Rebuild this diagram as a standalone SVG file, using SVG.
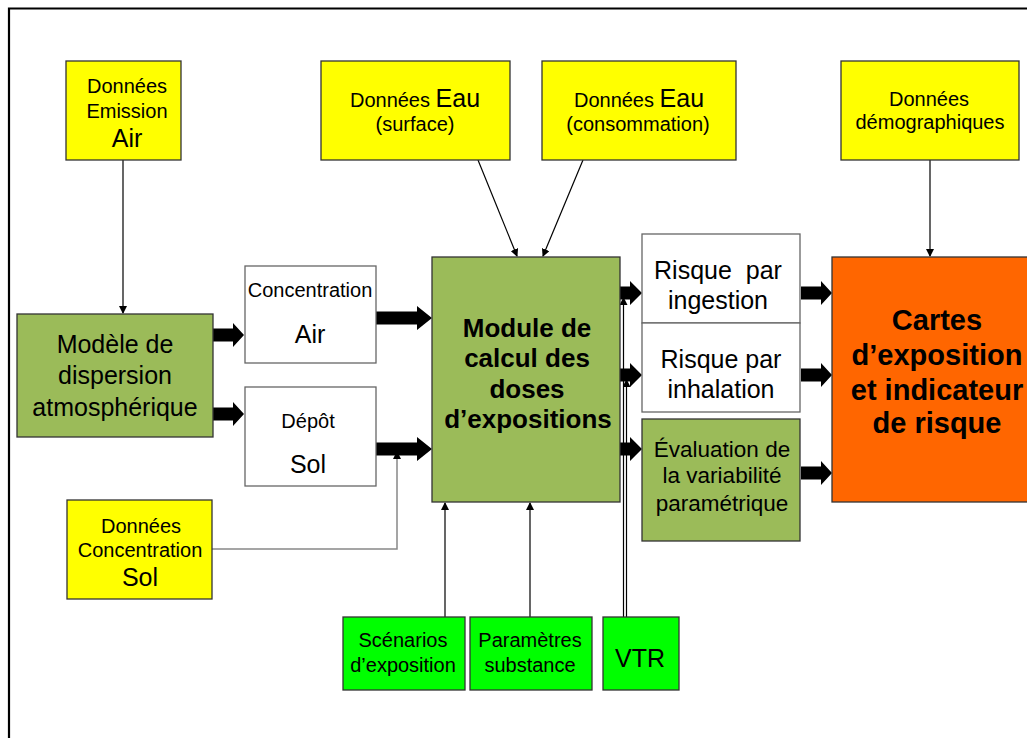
<svg xmlns="http://www.w3.org/2000/svg" width="1027" height="738" viewBox="0 0 1027 738">
<style>
.box{stroke:#333;stroke-width:1.3}
.y{fill:#FFFF00}.g{fill:#9BBB59}.w{fill:#fff;stroke:#666}.o{fill:#FF6600}.l{fill:#00FF00}
text{font-family:"Liberation Sans",Arial,sans-serif;fill:#000;text-anchor:middle}
.s{font-size:20px}.m{font-size:25px}.e{font-size:22.5px}.b{font-weight:bold;font-size:26px}.c{font-weight:bold;font-size:29px}
.thin{stroke:#000;stroke-width:1.2;fill:none}
.gray{stroke:#888;stroke-width:1.5;fill:none}
</style>
<defs>
<marker id="ah" markerWidth="8" markerHeight="8" refX="7" refY="4" orient="auto" markerUnits="userSpaceOnUse" viewBox="0 0 8 8"><path d="M0,0L8,4L0,8z" fill="#000"/></marker>
<path id="big" d="M0,-6.5H20V-12L31,0L20,12V6.5H0z" fill="#000"/>
<path id="long" d="M0,-6.5H41V-12L56,0L41,12V6.5H0z" fill="#000"/>
<path id="short" d="M0,-6.5H17V-12L29,0L17,12V6.5H0z" fill="#000"/>
</defs>
<path d="M9,738V8.5H1027" stroke="#000" stroke-width="2.2" fill="none"/>
<g id="connectors">
<line class="thin" x1="123" y1="160" x2="123" y2="313" marker-end="url(#ah)"/>
<line class="thin" x1="478" y1="160" x2="517" y2="256" marker-end="url(#ah)"/>
<line class="thin" x1="583" y1="160" x2="543" y2="256" marker-end="url(#ah)"/>
<line class="thin" x1="930" y1="160" x2="930" y2="256" marker-end="url(#ah)"/>
<line class="thin" x1="445" y1="617" x2="445" y2="503" marker-end="url(#ah)"/>
<line class="thin" x1="530" y1="617" x2="530" y2="503" marker-end="url(#ah)"/>
<path class="gray" d="M212,549H397V452" marker-end="url(#ah)"/>
<use href="#big" x="213" y="335"/>
<use href="#big" x="213" y="414"/>
<use href="#long" x="376" y="318"/>
<use href="#long" x="376" y="449"/>
<use href="#short" x="613" y="293"/>
<use href="#short" x="613" y="375"/>
<use href="#short" x="613" y="449"/>
<use href="#big" x="801" y="293"/>
<use href="#big" x="801" y="375"/>
<use href="#big" x="801" y="473"/>
<line class="thin" x1="623.5" y1="617" x2="623.5" y2="298" marker-end="url(#ah)"/>
<line class="thin" x1="626.5" y1="617" x2="626.5" y2="380" marker-end="url(#ah)"/>
</g>
<g id="emission"><rect class="box y" x="66" y="61" width="115" height="99"/>
<text class="s" x="127" y="93">Données</text><text class="s" x="127" y="118">Emission</text><text class="m" x="127" y="147">Air</text></g>
<g id="eau-surface"><rect class="box y" x="321" y="61" width="189" height="99"/>
<text x="415" y="107"><tspan class="s">Données </tspan><tspan class="m">Eau</tspan></text><text class="s" x="415" y="131">(surface)</text></g>
<g id="eau-conso"><rect class="box y" x="542" y="61" width="194" height="99"/>
<text x="639" y="107"><tspan class="s">Données </tspan><tspan class="m">Eau</tspan></text><text class="s" x="638" y="131">(consommation)</text></g>
<g id="demo"><rect class="box y" x="841" y="61" width="178" height="99"/>
<text class="s" x="929" y="106">Données</text><text class="s" x="930" y="129">démographiques</text></g>
<g id="modele"><rect class="box g" x="17" y="314" width="196" height="123"/>
<text class="m" x="115" y="353">Modèle de</text><text class="m" x="115" y="384">dispersion</text><text class="m" x="115" y="416">atmosphérique</text></g>
<g id="conc-air"><rect class="box w" x="245" y="266" width="131" height="97"/>
<text class="s" x="310" y="297">Concentration</text><text class="m" x="310" y="343">Air</text></g>
<g id="depot-sol"><rect class="box w" x="245" y="387" width="131" height="99"/>
<text class="s" x="308" y="428">Dépôt</text><text class="m" x="308" y="473">Sol</text></g>
<g id="module"><rect class="box g" x="432" y="257" width="188" height="245"/>
<text class="b" x="527" y="337">Module de</text><text class="b" x="527" y="367">calcul des</text><text class="b" x="527" y="398">doses</text><text class="b" x="528" y="428">d’expositions</text></g>
<g id="ingestion"><rect class="box w" x="642" y="234" width="158" height="89"/>
<text class="m" x="718" y="279" xml:space="preserve">Risque  par</text><text class="m" x="718" y="309">ingestion</text></g>
<g id="inhalation"><rect class="box w" x="642" y="323" width="158" height="89"/>
<text class="m" x="721" y="368">Risque par</text><text class="m" x="721" y="398">inhalation</text></g>
<g id="evaluation"><rect class="box g" x="642" y="419" width="158" height="122"/>
<text class="e" x="722" y="457">Évaluation de</text><text class="e" x="722" y="483">la variabilité</text><text class="e" x="722" y="511">paramétrique</text></g>
<g id="cartes"><rect class="box o" x="832" y="257" width="200" height="245"/>
<text class="c" x="937" y="330">Cartes</text><text class="c" x="937" y="365">d’exposition</text><text class="c" x="937" y="400">et indicateur</text><text class="c" x="937" y="433">de risque</text></g>
<g id="conc-sol"><rect class="box y" x="67" y="500" width="145" height="99"/>
<text class="s" x="141" y="533">Données</text><text class="s" x="140" y="557">Concentration</text><text class="m" x="140" y="586">Sol</text></g>
<g id="scenarios"><rect class="box l" x="343" y="617" width="122" height="73"/>
<text class="s" x="403" y="647">Scénarios</text><text class="s" x="403" y="672">d’exposition</text></g>
<g id="parametres"><rect class="box l" x="470" y="617" width="122" height="73"/>
<text class="s" x="530" y="647">Paramètres</text><text class="s" x="530" y="672">substance</text></g>
<g id="vtr"><rect class="box l" x="603" y="617" width="76" height="73"/>
<text class="m" x="640" y="667">VTR</text></g>
</svg>
